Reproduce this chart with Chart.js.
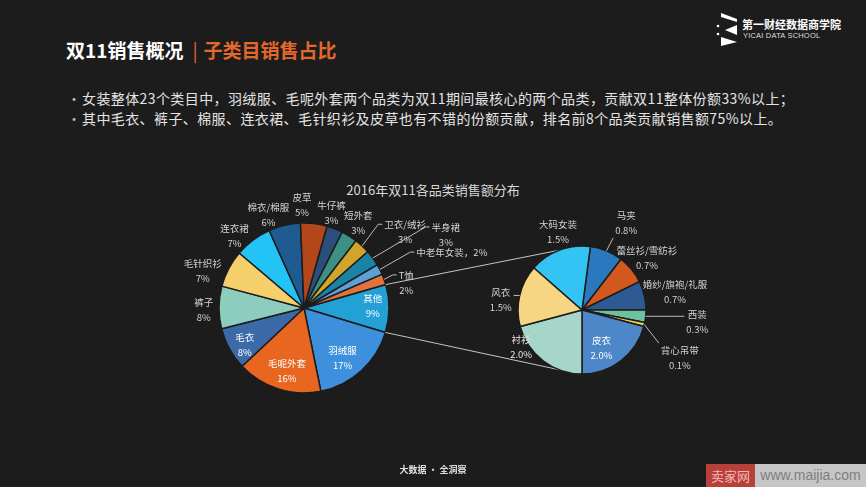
<!DOCTYPE html>
<html>
<head>
<meta charset="utf-8">
<script src="https://cdn.jsdelivr.net/npm/chart.js@4.4.0/dist/chart.umd.min.js"></script>
<style>
  body {
    margin: 0;
    width: 866px;
    height: 487px;
    background: #1c1c1c;
    overflow: hidden;
    position: relative;
    font-family: "Noto Sans CJK SC", sans-serif;
  }
  canvas { position: absolute; left: 0; top: 0; }
  .title {
    position: absolute; left: 66px; top: 37px;
    font-size: 19px; line-height: 26px; font-weight: bold;
    color: #fff; white-space: nowrap;
  }
  .title .sep { color: #e2692b; font-weight: normal; margin: 0 6px 0 9px; }
  .title .sub { color: #e2692b; }
  .bullets {
    position: absolute; left: 67px; top: 88px;
    font-size: 14px; line-height: 20px; color: #e4e4e4; white-space: nowrap;
    letter-spacing: 0.4px;
  }
  .bullets span { display: inline-block; width: 15px; color: #bbb; letter-spacing: 0; }
  .logo-cn {
    position: absolute; left: 742px; top: 16px;
    font-size: 11px; line-height: 16px; font-weight: bold; color: #fff;
  }
  .logo-en {
    position: absolute; left: 743px; top: 31px;
    font-family: "Liberation Sans", sans-serif;
    font-size: 7.5px; line-height: 10px; color: #ddd; letter-spacing: 0.2px;
  }
  .ctitle {
    position: absolute; left: 0; width: 866px; top: 181px;
    text-align: center; font-size: 13px; line-height: 18px; color: #d8d8d8;
  }
  .foot {
    position: absolute; left: 0; width: 866px; top: 463px;
    text-align: center; font-size: 9px; line-height: 14px; color: #e0e0e0; font-weight: bold;
  }
  .mj-red {
    position: absolute; left: 706px; top: 464px; width: 49px; height: 23px;
    background: #b8403a; color: #f3b8b4; font-size: 13px; line-height: 23px; text-align: center;
  }
  .mj-gray {
    position: absolute; left: 755px; top: 464px; width: 111px; height: 23px;
    background: #c6c6c6; color: #7e7e7e; font-family: "Liberation Sans", sans-serif;
    font-size: 14px; line-height: 23px; text-align: center;
  }
</style>
</head>
<body>
<div class="title">双11销售概况<span class="sep">|</span><span class="sub">子类目销售占比</span></div>
<div class="bullets">
  <div><span>•</span>女装整体23个类目中，羽绒服、毛呢外套两个品类为双11期间最核心的两个品类，贡献双11整体份额33%以上；</div>
  <div><span>•</span>其中毛衣、裤子、棉服、连衣裙、毛针织衫及皮草也有不错的份额贡献，排名前8个品类贡献销售额75%以上。</div>
</div>
<svg width="24" height="36" style="position:absolute;left:716px;top:11px">
  <polygon points="5,2 21,8 21,11 5,6" fill="#fff"/>
  <polygon points="21,14 9,19 21,24" fill="#fff"/>
  <polygon points="5,26 21,31 5,35" fill="#fff"/>
  <circle cx="2" cy="15" r="1.3" fill="#fff"/>
  <circle cx="2" cy="23" r="1.3" fill="#fff"/>
</svg>
<div class="logo-cn">第一财经数据商学院</div>
<div class="logo-en">YICAI DATA SCHOOL</div>
<div class="ctitle">2016年双11各品类销售额分布</div>
<canvas id="mainPie" width="866" height="487"></canvas>
<canvas id="otherPie" width="866" height="487"></canvas>
<div class="foot">大数据 · 全洞察</div>
<div class="mj-red">卖家网</div>
<div class="mj-gray">www.maijia.com</div>

<script>
// main pie: share of Double-11 sales by category (%)
const mainNames = ["其他", "羽绒服", "毛呢外套", "毛衣", "裤子", "毛针织衫", "连衣裙", "棉衣/棉服",
  "皮草", "牛仔裤", "短外套", "卫衣/绒衫", "半身裙", "中老年女装", "T恤"];
const mainShares = [9, 17, 16, 8, 8, 7, 7, 6, 5, 3, 3, 3, 3, 2, 2];

// the "其他" slice broken down (%)
const otherNames = ["马夹", "蕾丝衫/雪纺衫", "婚纱/旗袍/礼服", "西装", "背心吊带", "皮衣", "衬衫", "风衣", "大码女装"];
const otherShares = [0.8, 0.7, 0.7, 0.3, 0.1, 2.0, 2.0, 1.5, 1.5];

const mainColors = ["#23a0d6", "#3f90dc", "#e8661f", "#3c69a8", "#8dcdbd", "#f4cf6a", "#22c4f5", "#1d5b90",
  "#b4461c", "#2b4e7c", "#3d9182", "#d1a52c", "#1b84a6", "#5f9fd8", "#e0733b"];
const otherColors = ["#2a78bd", "#d2581f", "#2d5a92", "#6cc1a1", "#f2c94c", "#4d87c8", "#a6d6ca", "#f7d683", "#33c4f3"];

// label placement: f = distance as share of radius, da = turn from slice middle (deg)
const mainPlace = [
  { f: 0.81, da: -2.4, c: "#fff" },
  { f: 0.74, da: 4.5, c: "#fff" },
  { f: 0.77, da: -2.5, c: "#fff" },
  { f: 0.82, da: -3, c: "#fff" },
  { f: 1.18, da: -1.3 },
  { f: 1.27, da: -7.3 },
  { f: 1.18, da: -6.9 },
  { f: 1.17, da: -7.7 },
  { f: 1.21, da: -7.8 },
  { f: 1.17, da: -5.2 },
  { f: 1.19, da: 0.3 },
  { f: 1.49, da: 9.9, leader: "side" },
  { f: 1.88, da: 8.6, leader: "side" },
  { f: 1.86, da: 6.2, leader: "side", oneLine: true },
  { f: 1.24, da: 5.6, leader: "side" }
];
const otherPlace = [
  { f: 1.52, da: 4.5, leader: "near" },
  { f: 1.30, da: 0.7 },
  { f: 1.48, da: 2.1 },
  { f: 1.81, da: 0.4, leader: "near" },
  { f: 1.70, da: 12.8, leader: "near" },
  { f: 0.66, da: 10, c: "#fff" },
  { f: 1.11, da: 21.5, c: "#e6e6e6" },
  { f: 1.28, da: -5.8, leader: "near" },
  { f: 1.28, da: 3.6 }
];
// where the two link lines meet the small pie (deg, clockwise from top)
const linkAngles = [339, 183];

const mainText = mainNames.map((n, i) =>
  mainPlace[i].oneLine ? [n + "，" + mainShares[i] + "%"] : [n, mainShares[i] + "%"]);
const otherText = otherNames.map((n, i) => [n, otherShares[i].toFixed(1) + "%"]);

function sliceLabels(place, texts) {
  return {
    id: "sliceLabels",
    afterDatasetsDraw(chart) {
      const ctx = chart.ctx;
      const arcs = chart.getDatasetMeta(0).data;
      ctx.save();
      ctx.font = "9.5px 'Noto Sans CJK SC'";
      ctx.textAlign = "center";
      ctx.textBaseline = "middle";
      arcs.forEach((arc, i) => {
        const p = place[i];
        const lines = texts[i];
        const mid = (arc.startAngle + arc.endAngle) / 2;
        const a = mid + (p.da * Math.PI) / 180;
        const x = arc.x + Math.cos(a) * arc.outerRadius * p.f;
        const y = arc.y + Math.sin(a) * arc.outerRadius * p.f;
        const top = y - (lines.length - 1) * 7.5;

        if (p.leader) {
          const w = Math.max(...lines.map((t) => ctx.measureText(t).width));
          const ex = arc.x + Math.cos(mid) * arc.outerRadius;
          const ey = arc.y + Math.sin(mid) * arc.outerRadius;
          ctx.strokeStyle = "#bdbdbd";
          ctx.lineWidth = 1;
          ctx.beginPath();
          ctx.moveTo(ex, ey);
          if (p.leader === "side") {
            ctx.lineTo(x - w / 2 - 6, top);
            ctx.lineTo(x - w / 2 - 2, top);
          } else {
            const l = x - w / 2 - 2, r = x + w / 2 + 2;
            const t = top - 7, b = top + (lines.length - 1) * 15 + 7;
            ctx.lineTo(Math.min(Math.max(ex, l), r), Math.min(Math.max(ey, t), b));
          }
          ctx.stroke();
        }

        ctx.fillStyle = p.c || "#d2d2d2";
        lines.forEach((t, k) => ctx.fillText(t, x, top + k * 15));
      });
      ctx.restore();
    }
  };
}

const pieOptions = (rotation, radius, padding) => ({
  responsive: false,
  animation: false,
  devicePixelRatio: 1,
  events: [],
  rotation: rotation,
  radius: radius,
  layout: { padding: padding },
  plugins: { legend: { display: false }, tooltip: { enabled: false } }
});

const mainChart = new Chart(document.getElementById("mainPie"), {
  type: "pie",
  data: {
    labels: mainNames,
    datasets: [{
      data: mainShares,
      backgroundColor: mainColors,
      borderColor: "#1c1c1c",
      borderWidth: 1.5,
      hoverOffset: 0
    }]
  },
  options: pieOptions(74, 85, { left: 219, right: 477, top: 223, bottom: 94 }),
  plugins: [sliceLabels(mainPlace, mainText)]
});

const linkLines = {
  id: "linkLines",
  beforeDatasetsDraw(chart) {
    const src = mainChart.getDatasetMeta(0).data[0];
    const dst = chart.getDatasetMeta(0).data[0];
    const ends = [src.startAngle, src.endAngle];
    const ctx = chart.ctx;
    ctx.save();
    ctx.strokeStyle = "#c4c4c4";
    ctx.lineWidth = 1;
    linkAngles.forEach((deg, k) => {
      const a = ((deg - 90) * Math.PI) / 180;
      ctx.beginPath();
      ctx.moveTo(src.x + Math.cos(ends[k]) * src.outerRadius, src.y + Math.sin(ends[k]) * src.outerRadius);
      ctx.lineTo(dst.x + Math.cos(a) * dst.outerRadius, dst.y + Math.sin(a) * dst.outerRadius);
      ctx.stroke();
    });
    ctx.restore();
  }
};

new Chart(document.getElementById("otherPie"), {
  type: "pie",
  data: {
    labels: otherNames,
    datasets: [{
      data: otherShares,
      backgroundColor: otherColors,
      borderColor: "#1c1c1c",
      borderWidth: 1.5,
      hoverOffset: 0
    }]
  },
  options: pieOptions(7.5, 64, { left: 518, right: 220, top: 246, bottom: 113 }),
  plugins: [linkLines, sliceLabels(otherPlace, otherText)]
});
</script>
</body>
</html>
